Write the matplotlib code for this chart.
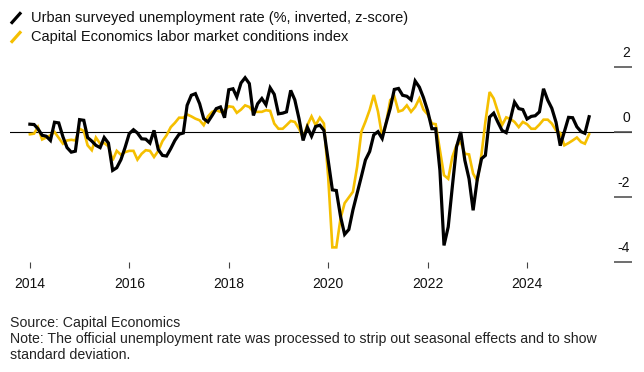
import matplotlib
matplotlib.use('Agg')
import matplotlib.pyplot as plt
import matplotlib.transforms as mtransforms
from matplotlib.lines import Line2D
import pandas as pd

plt.rcParams['font.family'] = ['Liberation Sans', 'DejaVu Sans']

# monthly data, Jan 2014 - Apr 2025
months = pd.date_range('2014-01-01', periods=136, freq='MS')

unemployment = [
    0.24, 0.23, 0.10, -0.10, -0.13, -0.26, 0.30, 0.28, -0.15, -0.48, -0.62, -0.59,
    0.38, 0.36, -0.17, -0.28, -0.41, -0.48, -0.17, -0.34, -1.18, -1.10, -0.85, -0.48,
    -0.05, 0.07, -0.03, -0.21, -0.22, -0.34, 0.05, -0.54, -0.72, -0.74, -0.51, -0.26,
    -0.07, -0.03, 0.82, 1.13, 1.18, 0.87, 0.41, 0.31, 0.51, 0.72, 0.77, 0.44,
    1.30, 1.33, 1.08, 1.51, 1.67, 1.49, 0.51, 0.87, 1.03, 0.84, 1.36, 1.16,
    0.56, 0.58, 0.62, 1.28, 0.99, 0.41, -0.26, 0.15, -0.13, 0.17, 0.21, 0.05,
    -0.86, -1.78, -1.80, -2.60, -3.15, -3.00, -2.40, -1.89, -1.37, -0.86, -0.60, -0.09,
    0.01, -0.20, 0.26, 0.73, 1.31, 1.34, 1.13, 1.10, 0.99, 1.57, 1.38, 1.06,
    0.65, 0.10, 0.10, -1.18, -3.49, -2.92, -1.69, -0.46, 0.00, -0.87, -1.44, -2.41,
    -1.44, -0.82, -0.72, 0.46, 0.58, 0.30, 0.05, -0.02, 0.40, 0.92, 0.72, 0.69,
    0.40, 0.48, 0.50, 0.62, 1.33, 0.98, 0.73, 0.30, -0.42, 0.01, 0.45, 0.44,
    0.16, 0.01, -0.04, 0.47,
]

labor_index = [
    -0.07, -0.05, 0.15, -0.23, -0.17, -0.10, 0.00, -0.18, -0.36, -0.26, -0.24, -0.26,
    0.10, 0.03, -0.41, -0.56, -0.17, -0.36, -0.34, -0.44, -0.87, -0.58, -0.70, -0.62,
    -0.58, -0.58, -0.85, -0.67, -0.56, -0.58, -0.77, -0.58, -0.28, -0.10, 0.15, 0.28,
    0.44, 0.44, 0.54, 0.48, 0.41, 0.36, 0.21, 0.48, 0.62, 0.67, 0.62, 0.67,
    0.79, 0.77, 0.59, 0.69, 0.82, 0.77, 0.62, 0.62, 0.62, 0.67, 0.65, 0.26,
    0.10, 0.10, 0.21, 0.34, 0.31, 0.10, -0.17, 0.21, 0.48, 0.21, 0.44, 0.26,
    -1.37, -3.55, -3.55, -2.66, -2.19, -2.01, -1.84, -1.07, 0.01, 0.32, 0.68, 1.14,
    0.63, -0.14, 0.27, 0.98, 1.10, 0.63, 0.67, 0.82, 0.62, 0.77, 1.03, 0.69,
    0.54, 0.26, 0.24, -0.56, -1.33, -1.44, -0.77, -0.41, -0.31, -0.67, -0.69, -1.28,
    -1.51, -0.67, 0.31, 1.23, 1.03, 0.62, 0.21, 0.45, 0.40, 0.31, 0.15, 0.31,
    0.24, 0.10, 0.10, 0.23, 0.38, 0.38, 0.26, 0.05, -0.03, -0.41, -0.34, -0.26,
    -0.17, -0.31, -0.36, -0.07,
]

legend_labels = ['Urban surveyed unemployment rate (%, inverted, z-score)',
                 'Capital Economics labor market conditions index']
y_ticks = [2, 0, -2, -4]
x_years = [2014, 2016, 2018, 2020, 2022, 2024]

black = '#000000'
yellow = '#f5bf00'

W, H = 644, 372
fig = plt.figure(figsize=(W / 100, H / 100), dpi=100)
ax = fig.add_axes([10 / W, 1 - 262 / H, 622 / W, (262 - 60.5) / H])

ax.axhline(0, color='black', lw=0.8, zorder=1)
ax.plot(months, labor_index, color=yellow, lw=1.9, zorder=2, solid_joinstyle='miter')
ax.plot(months, unemployment, color=black, lw=2.3, zorder=3, solid_joinstyle='miter')

ax.set_ylim(-4, 2.2)
ax.set_xlim(pd.Timestamp('2013-08-08'), pd.Timestamp('2026-02-10'))

for s in ax.spines.values():
    s.set_visible(False)

ax.set_xticks([pd.Timestamp(f'{y}-01-01') for y in x_years])
ax.set_xticklabels([str(y) for y in x_years])
ax.tick_params(axis='x', direction='out', length=4, width=0.8, color='#444444',
               pad=7, labelsize=10, labelcolor='#111111')

ax.set_yticks(y_ticks)
ax.tick_params(axis='y', left=False, right=True, labelleft=False, labelright=False,
               direction='in', length=13, width=1.2, color='#555555')
trans = mtransforms.blended_transform_factory(ax.transAxes, ax.transData)
for v in y_ticks:
    ax.annotate(str(v), xy=(1, v), xycoords=trans,
                xytext=(-1.5, 5), textcoords='offset points',
                ha='right', va='bottom', fontsize=10, color='#111111')

# legend with slash markers
for i, (lab, col) in enumerate(zip(legend_labels, [black, yellow])):
    yc = 18 + i * 19
    fig.add_artist(Line2D([12 / W, 20 / W], [1 - (yc + 4.5) / H, 1 - (yc - 4.5) / H],
                          color=col, lw=2.3, transform=fig.transFigure))
    fig.text(31 / W, 1 - yc / H, lab, fontsize=10.5, va='center', ha='left',
             color='#111111')

fig.text(10 / W, 1 - 323 / H, 'Source: Capital Economics', fontsize=10.2,
         va='center', color='#222222')
fig.text(10 / W, 1 - 347 / H,
         'Note: The official unemployment rate was processed to strip out seasonal effects and to show\n'
         'standard deviation.', fontsize=10.2, va='center', color='#222222',
         linespacing=1.15)

fig.savefig('out.png', dpi=100)
